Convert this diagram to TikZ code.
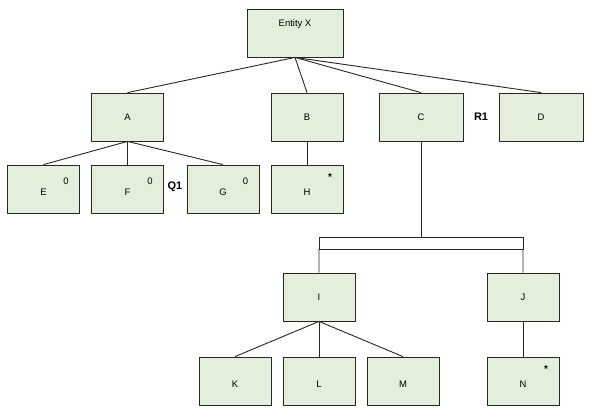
\documentclass[tikz,border=0pt]{standalone}
\usepackage{fontspec}
\setmainfont{Liberation Sans}
\usepackage{xcolor}
\usepackage{tikz}
\usetikzlibrary{calc}
\definecolor{boxgreen}{RGB}{227,239,218}

\begin{document}
\begin{tikzpicture}[x=1bp, y=-1bp,
    box/.style={draw=black!85, fill=boxgreen, line width=0.8bp, minimum width=72bp,
        minimum height=48bp, inner sep=0pt, font=\fontsize{9.5}{11}\selectfont},
    wide/.style={box, minimum width=84bp},
    leaf/.style={box, text height=14pt, text depth=0pt},
    tag/.style={inner sep=0pt, font=\fontsize{9.5}{11}\selectfont},
    rel/.style={inner sep=0pt, font=\bfseries\fontsize{11}{13}\selectfont},
    link/.style={draw=black!85, line width=0.9bp}]
    \useasboundingbox (0,0) rectangle (590,410);

    % Root
    \node[box, minimum width=96bp, text depth=20pt] (entity) at (295,33) {Entity X};

    % Second level
    \node[box] (a) at (127.5,117) {A};
    \node[box] (b) at (307,117) {B};
    \node[wide] (c) at (421,117) {C};
    \node[wide] (d) at (541,117) {D};
    \node[rel] (r1) at (481,117) {R1};

    % Children of A and B
    \node[leaf] (e) at (43.5,189) {E};
    \node[leaf] (f) at (127.5,189) {F};
    \node[leaf] (g) at (223,189) {G};
    \node[leaf] (h) at (307,189) {H};
    \node[rel] (q1) at (175,187) {Q1};
    \node[tag] at ($(e.center)+(22.5,-8)$) {0};
    \node[tag] at ($(f.center)+(22.5,-8)$) {0};
    \node[tag] at ($(g.center)+(22.5,-8)$) {0};
    \node[tag, font=\bfseries] at ($(h.center)+(23,-12)$) {*};

    % Split under C
    \node[draw=black!85, fill=white, line width=0.8bp, minimum width=204bp,
        minimum height=12bp, inner sep=0pt, outer sep=0pt] (bar) at (421,243) {};
    \node[box] (i) at (319,297) {I};
    \node[box] (j) at (523,297) {J};

    % Bottom level
    \node[leaf] (k) at (235,381) {K};
    \node[leaf] (l) at (319,381) {L};
    \node[leaf] (m) at (403,381) {M};
    \node[leaf] (n) at (523,381) {N};
    \node[tag, font=\bfseries] at ($(n.center)+(23,-12)$) {*};

    % Connectors
    \foreach \x in {a,b,c,d}
        \draw[link] (entity.south) -- (\x.north);
    \foreach \x in {e,f,g}
        \draw[link] (a.south) -- (\x.north);
    \draw[link] (b.south) -- (h.north);
    \draw[link] (c.south) -- (bar.north);
    \draw[link] (bar.south west) -- (i.north);
    \draw[link] (bar.south east) -- (j.north);
    \foreach \x in {k,l,m}
        \draw[link] (i.south) -- (\x.north);
    \draw[link] (j.south) -- (n.north);
\end{tikzpicture}
\end{document}
